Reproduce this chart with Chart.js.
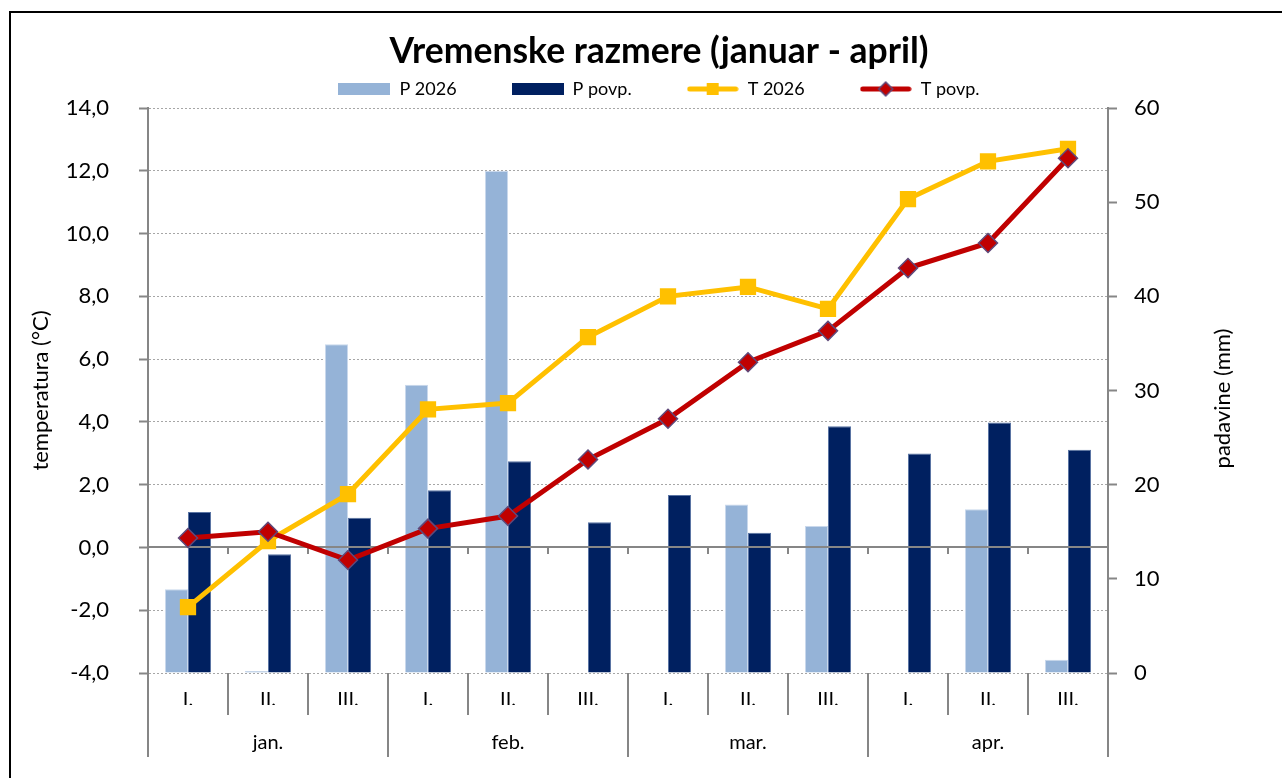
<!DOCTYPE html>
<html lang="sl">
<head>
<meta charset="utf-8">
<title>Vremenske razmere (januar - april)</title>
<script src="https://cdn.jsdelivr.net/npm/chart.js@4.4.1/dist/chart.umd.min.js"></script>
<style>
  html, body { margin: 0; padding: 0; background: #fff; overflow: hidden; }
  #okvir { position: absolute; left: 9px; top: 11px; width: 1400px; height: 900px; border-left: 2px solid #000; border-top: 2px solid #000; }
  #graf-wrap { position: absolute; left: 0; top: 0; width: 1282px; height: 778px; }
</style>
</head>
<body>
<div id="okvir"></div>
<div id="graf-wrap"><canvas id="graf"></canvas></div>
<script>
// ─── podatki (odčitano z grafa) ───
var dekade = ['I.', 'II.', 'III.', 'I.', 'II.', 'III.', 'I.', 'II.', 'III.', 'I.', 'II.', 'III.'];
var meseci = ['jan.', 'feb.', 'mar.', 'apr.'];
var padavine2026 = [8.9, 0.2, 34.9, 30.6, 53.3, 0, 0, 17.9, 15.6, 0, 17.4, 1.4];
var padavinePovp = [17.1, 12.6, 16.5, 19.4, 22.5, 16.0, 18.9, 14.9, 26.2, 23.3, 26.6, 23.7];
var temp2026 = [-1.9, 0.2, 1.7, 4.4, 4.6, 6.7, 8.0, 8.3, 7.6, 11.1, 12.3, 12.7];
var tempPovp = [0.3, 0.5, -0.4, 0.6, 1.0, 2.8, 4.1, 5.9, 6.9, 8.9, 9.7, 12.4];
var tempTicks = [-4, -2, 0, 2, 4, 6, 8, 10, 12, 14];
var padTicks = [0, 10, 20, 30, 40, 50, 60];

var PISAVA = 'Lato, "Open Sans", sans-serif';
var SIVA = '#868686';

// ikone za legendo (pravokotnik ali črta z oznako)
function ikona(risi) {
  var c = document.createElement('canvas');
  c.width = 52; c.height = 18;
  risi(c.getContext('2d'));
  return c;
}
var legendIkone = [
  ikona(function(g) { g.fillStyle = '#95B3D7'; g.fillRect(0, 3, 52, 12); }),
  ikona(function(g) { g.fillStyle = '#002060'; g.fillRect(0, 3, 52, 12); }),
  ikona(function(g) {
    g.strokeStyle = '#FFC000'; g.lineWidth = 5; g.lineCap = 'round';
    g.beginPath(); g.moveTo(3, 9); g.lineTo(49, 9); g.stroke();
    g.fillStyle = '#FFC000'; g.fillRect(20, 3, 12, 12);
  }),
  ikona(function(g) {
    g.strokeStyle = '#C00000'; g.lineWidth = 5; g.lineCap = 'round';
    g.beginPath(); g.moveTo(3, 9); g.lineTo(49, 9); g.stroke();
    g.beginPath(); g.moveTo(26, 2); g.lineTo(33, 9); g.lineTo(26, 16); g.lineTo(19, 9); g.closePath();
    g.fillStyle = '#C00000'; g.fill();
    g.strokeStyle = '#5F497A'; g.lineWidth = 1.5; g.stroke();
  })
];

// ničelna os kategorij + naslov desne osi
var dodatki = {
  id: 'dodatki',
  beforeDatasetDraw: function(chart, args) {
    if (args.index !== 2) return;
    var ca = chart.chartArea;
    var y0 = Math.round(chart.scales.y.getPixelForValue(0));
    var korak = (ca.right - ca.left) / dekade.length;
    var g = chart.ctx;
    g.save();
    g.strokeStyle = SIVA; g.lineWidth = 2;
    g.beginPath();
    g.moveTo(ca.left, y0); g.lineTo(ca.right, y0);
    for (var i = 1; i < dekade.length; i++) {
      var x = Math.round(ca.left + i * korak);
      g.moveTo(x, y0); g.lineTo(x, y0 + 7);
    }
    g.stroke();
    g.restore();
  },
  afterDraw: function(chart) {
    var ca = chart.chartArea;
    var g = chart.ctx;
    g.save();
    g.translate(1223, (ca.top + ca.bottom) / 2 + 8);
    g.rotate(-Math.PI / 2);
    g.font = '22px ' + PISAVA;
    g.fillStyle = '#000';
    g.textAlign = 'center'; g.textBaseline = 'middle';
    g.fillText('padavine (mm)', 0, 0);
    g.restore();
  }
};

function rob(ctx) { return ctx.raw > 0 ? 1 : 0; }

new Chart(document.getElementById('graf'), {
  type: 'bar',
  data: {
    labels: dekade,
    datasets: [
      { type: 'bar', label: 'P 2026', data: padavine2026, yAxisID: 'y1', order: 3,
        backgroundColor: '#95B3D7', borderColor: '#C9D8EC', borderWidth: rob,
        categoryPercentage: 0.575, barPercentage: 1 },
      { type: 'bar', label: 'P povp.', data: padavinePovp, yAxisID: 'y1', order: 3,
        backgroundColor: '#002060', borderColor: '#5A74A3', borderWidth: rob,
        categoryPercentage: 0.575, barPercentage: 1 },
      { type: 'line', label: 'T 2026', data: temp2026, yAxisID: 'y', order: 2,
        borderColor: '#FFC000', backgroundColor: '#FFC000', borderWidth: 5, tension: 0,
        pointStyle: 'rect', pointRadius: 11.5, pointBackgroundColor: '#FFC000',
        pointBorderColor: '#FFC000', pointBorderWidth: 0 },
      { type: 'line', label: 'T povp.', data: tempPovp, yAxisID: 'y', order: 1,
        borderColor: '#C00000', backgroundColor: '#C00000', borderWidth: 5, tension: 0,
        pointStyle: 'rectRot', pointRadius: 9.5, pointBackgroundColor: '#C00000',
        pointBorderColor: '#5F497A', pointBorderWidth: 1.5 }
    ]
  },
  options: {
    responsive: true,
    maintainAspectRatio: false,
    animation: false,
    events: [],
    layout: { padding: { left: 36, right: 0, top: 2, bottom: 0 } },
    plugins: {
      title: {
        display: true, text: 'Vremenske razmere (januar - april)', color: '#000',
        font: { family: PISAVA, size: 35.5, weight: 'bold' },
        padding: { top: 28.7, bottom: -48.3 }
      },
      legend: {
        display: true, position: 'top',
        labels: {
          usePointStyle: true, pointStyleWidth: 52, padding: 55, color: '#000',
          font: { family: PISAVA, size: 18 },
          sort: function(a, b) { return a.datasetIndex - b.datasetIndex; },
          generateLabels: function(chart) {
            var items = Chart.defaults.plugins.legend.labels.generateLabels(chart);
            items.forEach(function(it) { it.pointStyle = legendIkone[it.datasetIndex]; });
            return items;
          }
        }
      },
      tooltip: { enabled: false }
    },
    scales: {
      x: {
        type: 'category', position: 'bottom', offset: true,
        grid: { offset: true, drawOnChartArea: false, tickLength: 42, color: SIVA, lineWidth: 2 },
        border: { display: false },
        ticks: { color: '#000', font: { family: PISAVA, size: 20 }, padding: -27, autoSkip: false, maxRotation: 0 },
        afterFit: function(s) { s.height = 32; }
      },
      x2: {
        type: 'category', labels: meseci, position: 'bottom', offset: true,
        grid: { offset: true, drawOnChartArea: false, tickLength: 52, color: SIVA, lineWidth: 2 },
        border: { display: false },
        ticks: { color: '#000', font: { family: PISAVA, size: 20 }, padding: -26, autoSkip: false, maxRotation: 0 },
        afterFit: function(s) { s.height = 73; }
      },
      y: {
        type: 'linear', position: 'left', min: -4, max: 14,
        afterBuildTicks: function(s) { s.ticks = tempTicks.map(function(v) { return { value: v }; }); },
        grid: { color: '#A6A6A6', lineWidth: 1, tickColor: SIVA, tickLength: 9, tickWidth: 2 },
        border: { display: true, color: SIVA, width: 2, dash: [2, 2] },
        ticks: { color: '#000', font: { family: PISAVA, size: 22 }, padding: 30,
          callback: function(v) { return v.toFixed(1).replace('.', ','); } },
        title: { display: true, text: 'temperatura (°C)', color: '#000',
          font: { family: PISAVA, size: 22 }, padding: { top: -8.2, bottom: 0 } },
        afterFit: function(s) { s.width = 112; }
      },
      y1: {
        type: 'linear', position: 'right', min: 0, max: 60,
        afterBuildTicks: function(s) { s.ticks = padTicks.map(function(v) { return { value: v }; }); },
        grid: { drawOnChartArea: false, color: SIVA, tickLength: 9, tickWidth: 2 },
        border: { display: true, color: SIVA, width: 2 },
        ticks: { color: '#000', font: { family: PISAVA, size: 22 }, padding: 17 },
        afterFit: function(s) { s.width = 174; }
      }
    }
  },
  plugins: [dodatki]
});
</script>
</body>
</html>
